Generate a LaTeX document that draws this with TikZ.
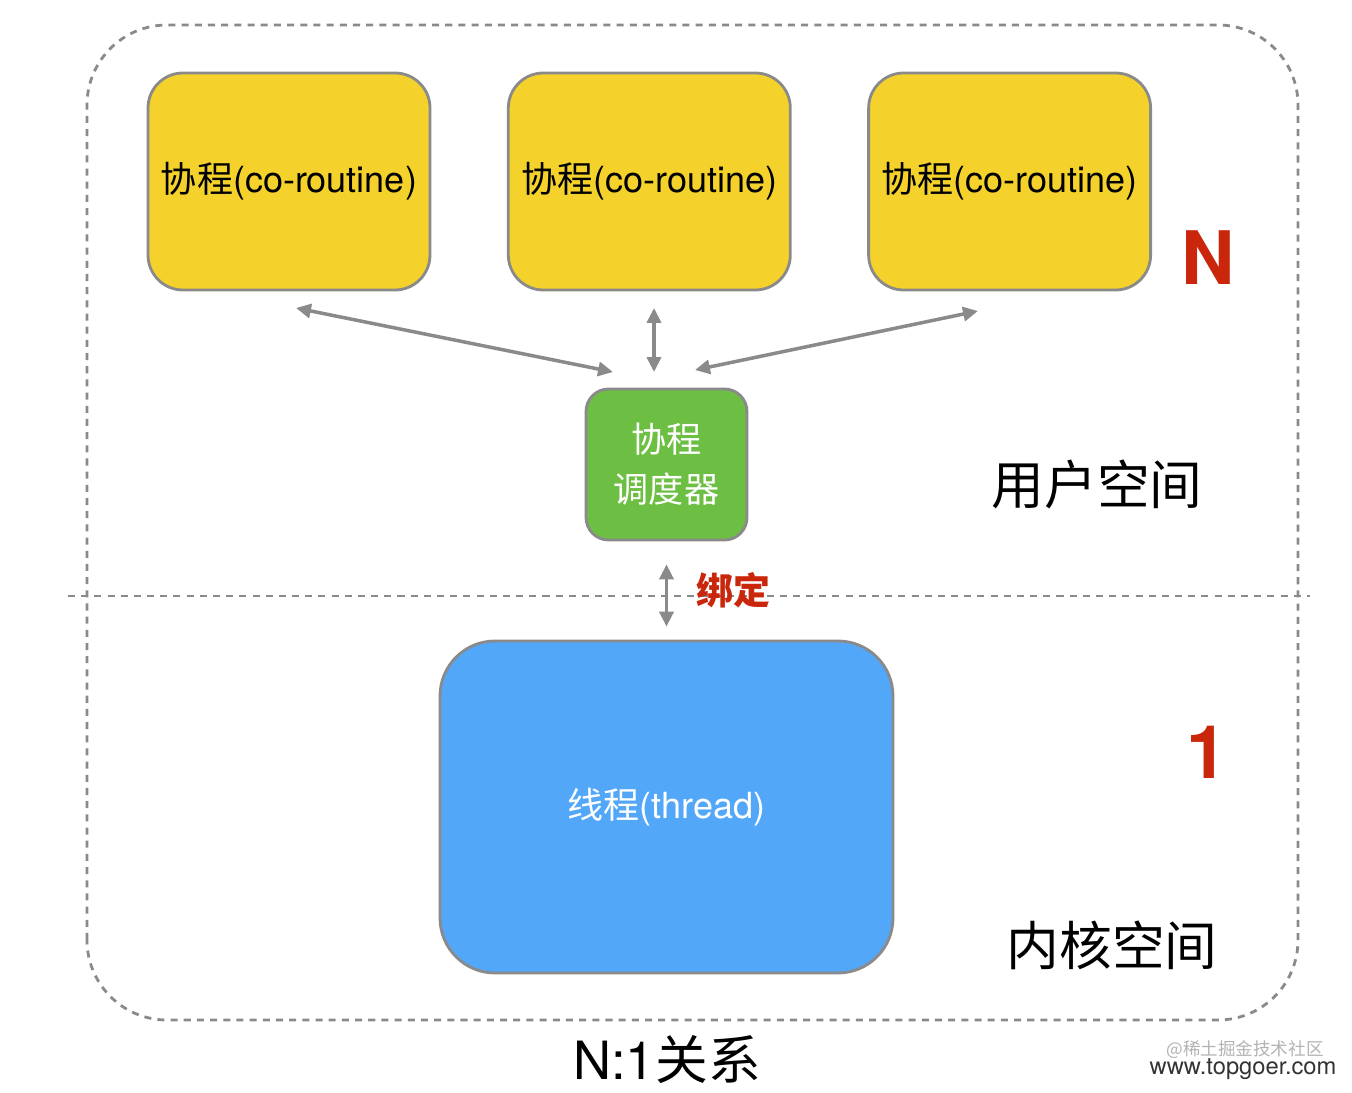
\documentclass[tikz,border=0pt]{standalone}
\usepackage{fontspec}
\setmainfont{TeX Gyre Heros}
\newfontfamily\cjk{Noto Sans CJK SC}
\usepackage{xcolor}
\usetikzlibrary{positioning, arrows.meta}
\definecolor{coyellow}{HTML}{F4D22B}
\definecolor{schedgreen}{HTML}{6DBF43}
\definecolor{threadblue}{HTML}{52A7F8}
\definecolor{markred}{HTML}{C9260C}
\definecolor{framegray}{HTML}{8A8A8A}
\tikzset{
  corout/.style={draw=framegray, line width=1.6pt, fill=coyellow, rounded corners=0.7cm,
    minimum width=5.64cm, minimum height=4.34cm, inner sep=0pt,
    font=\fontsize{20.5}{24}\selectfont},
  sched/.style={draw=framegray, line width=1.6pt, fill=schedgreen, rounded corners=0.45cm,
    minimum width=3.22cm, minimum height=3.02cm, inner sep=0pt, text=white, align=center,
    font=\fontsize{20}{28.5}\selectfont},
  thread/.style={draw=framegray, line width=1.6pt, fill=threadblue, rounded corners=1.1cm,
    minimum width=9.06cm, minimum height=6.64cm, inner sep=0pt, text=white,
    font=\fontsize{20.5}{24}\selectfont},
  link/.style={{Triangle[length=8.5pt,width=8pt]}-{Triangle[length=8.5pt,width=8pt]},
    draw=framegray, line width=2pt},
  space/.style={font=\fontsize{30}{36}\selectfont},
  count/.style={text=markred, font=\fontsize{42}{48}\selectfont\bfseries},
}

\begin{document}
\begin{tikzpicture}
    \useasboundingbox (0, 0) rectangle (27.04, 21.84);

    % frame and border between spaces
    \draw [framegray, line width=1.6pt, dash pattern=on 4pt off 3.5pt, rounded corners=1.6cm]
        (1.74, 1.44) rectangle (25.96, 21.34);
    \draw [framegray, line width=1.6pt, dash pattern=on 4pt off 3.5pt] (1.36, 9.92) -- (26.2, 9.92);

    \node [corout] (co1) at (5.78, 18.21) {{\cjk 协程}(co-routine)};
    \node [corout, right=1.51cm of co1] (co2) {{\cjk 协程}(co-routine)};
    \node [corout, right=1.51cm of co2] (co3) {{\cjk 协程}(co-routine)};
    \node [sched] (sch) at (13.33, 12.55) {\cjk 协程\\\cjk 调度器};
    \node [thread] (thr) at (13.33, 5.7) {{\cjk 线程}(thread)};

    \node [count] (N) at (24.16, 16.68) {N};
    \node [count] (one) at (24.14, 6.8) {1};
    \node [space] (user) at (21.94, 12.16) {\cjk 用户空间};
    \node [space] (kernel) at (22.24, 2.94) {\cjk 内核空间};
    \node [space] (title) at (13.34, 0.64) {N:1{\cjk 关系}};

    \coordinate (c1s) at (5.92, 15.68);
    \coordinate (s1n) at (12.26, 14.4);
    \coordinate (c2s) at (13.08, 15.68);
    \coordinate (s2n) at (13.08, 14.4);
    \coordinate (c3s) at (19.56, 15.62);
    \coordinate (s3n) at (13.9, 14.44);

    \draw [link] (c1s) -- (s1n);
    \draw [link] (c2s) -- (s2n);
    \draw [link] (c3s) -- (s3n);
    \draw [link, shorten <=0.46cm, shorten >=0.26cm] (sch.south) -- (thr.north)
        node [pos=0.5, right=0.45cm, text=markred, font=\fontsize{21}{24}\selectfont\cjk\bfseries] (bind) {绑定};

    % watermark
    \node [text=black!30, font=\fontsize{10}{12}\selectfont\cjk] (wm1) at (24.9, 0.84) {@稀土掘金技术社区};
    \node [text=black!80, font=\fontsize{13.5}{14}\selectfont] (wm2) at (24.86, 0.46) {www.topgoer.com};
\end{tikzpicture}
\end{document}
